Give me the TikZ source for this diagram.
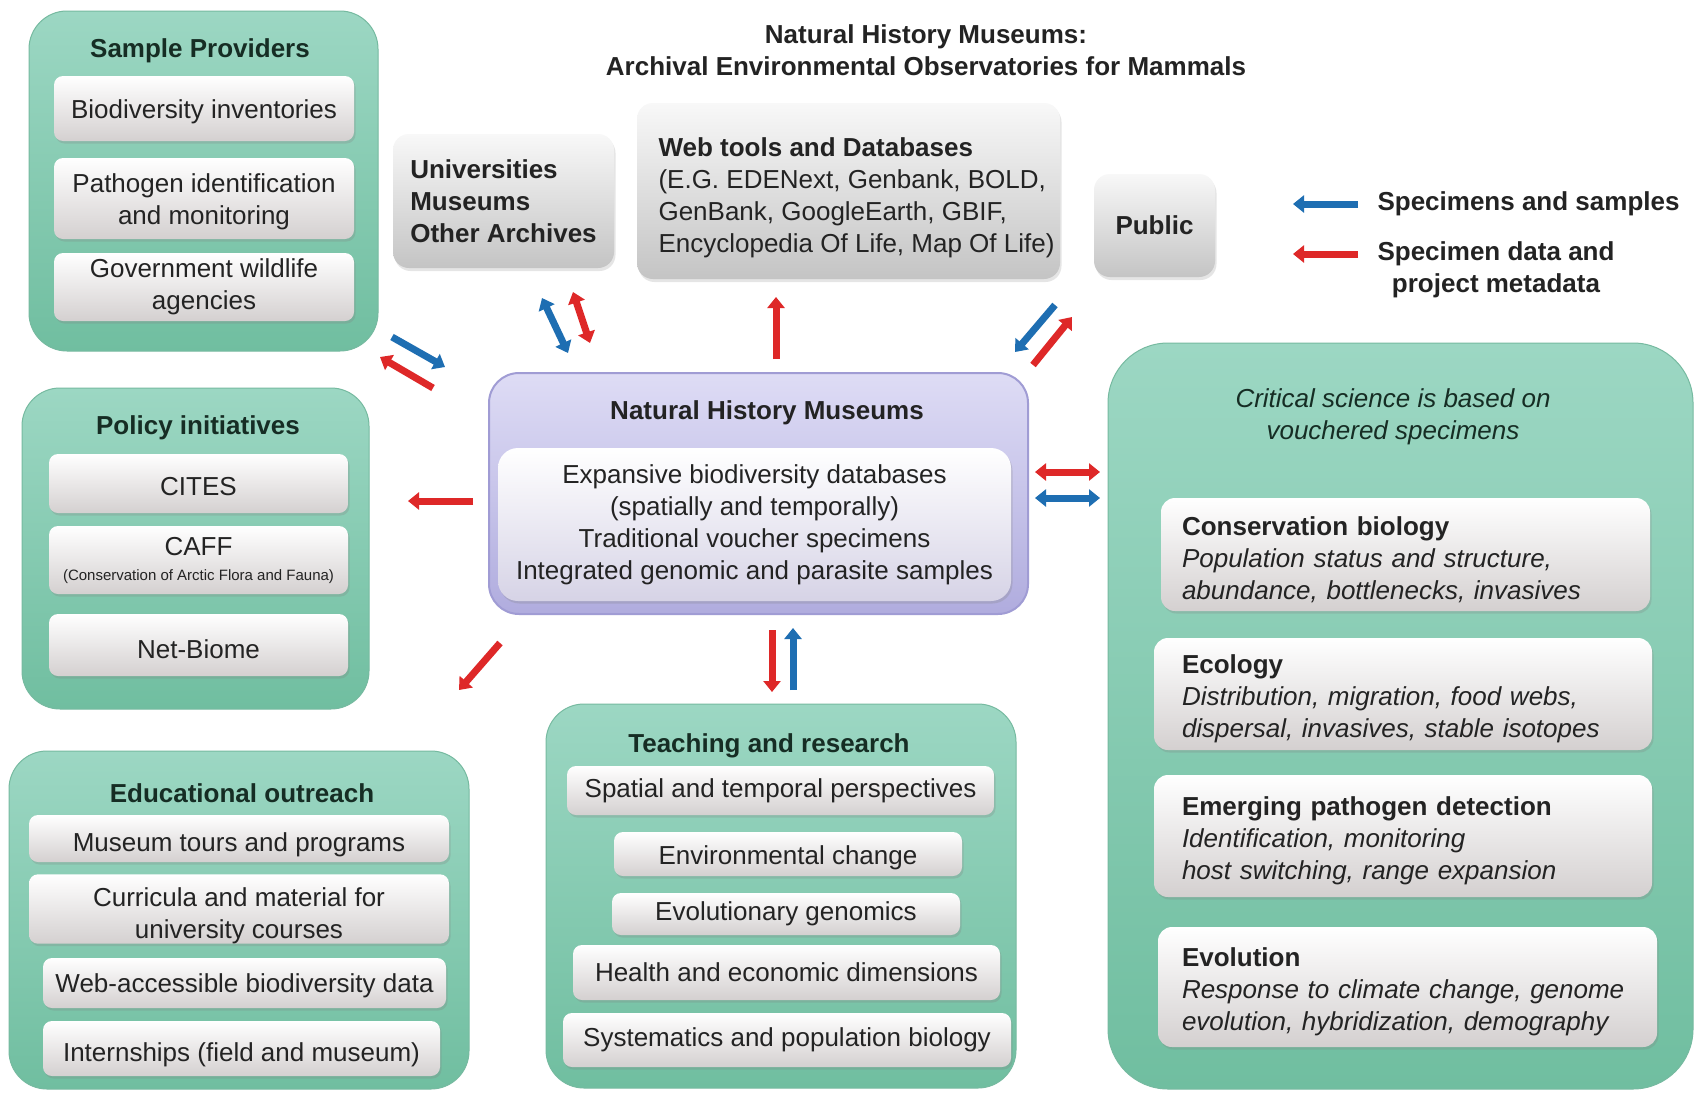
\documentclass[tikz,border=0pt]{standalone}
\usepackage{fontspec}
\setmainfont{Liberation Sans}
\usetikzlibrary{arrows.meta,shadows,positioning}

\definecolor{grnT}{RGB}{156,215,195}
\definecolor{grnB}{RGB}{112,190,160}
\definecolor{grnD}{RGB}{118,186,160}
\definecolor{itemB}{RGB}{212,208,208}
\definecolor{gryT}{RGB}{248,248,248}
\definecolor{gryB}{RGB}{196,196,196}
\definecolor{lavT}{RGB}{222,220,245}
\definecolor{lavB}{RGB}{176,172,222}
\definecolor{lavD}{RGB}{160,156,212}
\definecolor{lavI}{RGB}{214,211,230}
\definecolor{arred}{RGB}{222,40,40}
\definecolor{arblue}{RGB}{30,110,178}
\definecolor{txt}{RGB}{35,35,35}
\definecolor{ttlc}{RGB}{22,45,36}

\newcommand{\txtsize}{\fontsize{26}{32}\selectfont}

\begin{document}
\begin{tikzpicture}[x=1pt,y=-1pt,
    grp/.style={rounded corners=38pt, top color=grnT, bottom color=grnB, draw=grnD, line width=1pt},
    item/.style={rounded corners=9pt, top color=white, bottom color=itemB, align=center, inner sep=0pt,
        text=txt, font=\txtsize, drop shadow={opacity=.25, shadow xshift=1.5pt, shadow yshift=-2.5pt}},
    sci/.style={item, align=left, rounded corners=14pt, low=29pt},
    gbox/.style={rounded corners=16pt, top color=gryT, bottom color=gryB, text=txt, font=\txtsize\bfseries,
        drop shadow={opacity=.2, shadow xshift=1.5pt, shadow yshift=-3pt}},
    ttl/.style={font=\txtsize\bfseries, text=ttlc},
    low/.style={execute at begin node={\rule{0pt}{#1}}},
    redarr/.style={draw=arred, line width=7pt, -{Triangle[length=11pt,width=17pt]}},
    bluearr/.style={draw=arblue, line width=7pt, -{Triangle[length=11pt,width=17pt]}},
    redboth/.style={draw=arred, line width=7pt, {Triangle[length=11pt,width=17pt]}-{Triangle[length=11pt,width=17pt]}},
    blueboth/.style={draw=arblue, line width=7pt, {Triangle[length=11pt,width=17pt]}-{Triangle[length=11pt,width=17pt]}}]

    \fill[white] (0,0) rectangle (1704,1092);
    \useasboundingbox (0,0) rectangle (1704,1092);

    % heading
    \node[ttl, text=txt, align=center] (head) at (926,50) {Natural History Museums:\\Archival Environmental Observatories for Mammals};

    % sample providers
    \node[grp, minimum width=349pt, minimum height=340pt] (samp) at (203.5,181) {};
    \node[ttl] (samphd) at (200,51) {Sample Providers};
    \node[item, low=25pt, minimum width=300pt, minimum height=65pt] (bioinv) at (204,108.5) {Biodiversity inventories};
    \node[item, minimum width=300pt, minimum height=81pt] (pathid) at (204,198.5) {\rule{0pt}{25pt}Pathogen identification\\and monitoring};
    \node[item, minimum width=300pt, minimum height=68pt] (govwild) at (204,287) {Government wildlife\\agencies};

    % top row
    \node[gbox, align=left, minimum width=221pt, minimum height=134pt] (univ) at (503.5,201) {Universities\\Museums\\Other Archives};
    \node[gbox, minimum width=423pt, minimum height=176pt] (webdb) at (848.5,191) {};
    \node[font=\txtsize, text=txt, align=left, anchor=west] (webtxt) at (655,198)
        {\textbf{Web tools and Databases}\\(E.G. EDENext, Genbank, BOLD,\\GenBank, GoogleEarth, GBIF,\\Encyclopedia Of Life, Map Of Life)};
    \node[gbox, minimum width=121pt, minimum height=103pt] (public) at (1154.5,225.5) {Public};

    % legend
    \coordinate (lb1) at (1358,204);
    \coordinate (lb2) at (1293,204);
    \coordinate (lr1) at (1358,254);
    \coordinate (lr2) at (1293,254);
    \node[ttl, text=txt, anchor=west] (legb) at (1374,204) {Specimens and samples};
    \node[ttl, text=txt, align=center] (legr) at (1496,270) {Specimen data and\\project metadata};

    % policy initiatives
    \node[grp, minimum width=347pt, minimum height=321pt] (pol) at (195.5,548.5) {};
    \node[ttl] (polhd) at (198,428) {Policy initiatives};
    \node[item, low=25pt, minimum width=299pt, minimum height=59pt] (cites) at (198.5,483.5) {CITES};
    \node[item, minimum width=299pt, minimum height=68pt] (caff) at (198.5,560)
        {CAFF\\[-7pt]{\fontsize{15}{17}\selectfont (Conservation of Arctic Flora and Fauna)}};
    \node[item, low=27pt, minimum width=299pt, minimum height=62pt] (netbiome) at (198.5,645) {Net-Biome};

    % educational outreach
    \node[grp, minimum width=460pt, minimum height=338pt] (edu) at (239,920) {};
    \node[ttl] (eduhd) at (242,793) {Educational outreach};
    \node[item, low=32pt, minimum width=420pt, minimum height=47pt] (tours) at (239,838.5) {Museum tours and programs};
    \node[item, minimum width=420pt, minimum height=68pt] (curric) at (239,909) {\rule{0pt}{32pt}Curricula and material for\\university courses};
    \node[item, low=25pt, minimum width=403pt, minimum height=50pt] (webacc) at (244.5,983) {Web-accessible biodiversity data};
    \node[item, low=32pt, minimum width=397pt, minimum height=55pt] (intern) at (241.5,1048.5) {Internships (field and museum)};

    % natural history museums
    \node[rounded corners=30pt, top color=lavT, bottom color=lavB, draw=lavD, line width=2pt,
        minimum width=539pt, minimum height=241pt] (nhm) at (758.5,493.5) {};
    \node[ttl, text=txt] (nhmhd) at (767,413) {Natural History Museums};
    \node[item, bottom color=lavI, rounded corners=20pt, minimum width=513pt, minimum height=153pt, drop shadow={opacity=0}] (nhmin) at (754.5,524.5)
        {Expansive biodiversity databases\\(spatially and temporally)\\Traditional voucher specimens\\Integrated genomic and parasite samples};

    % teaching and research
    \node[grp, minimum width=470pt, minimum height=384pt] (teach) at (781,896) {};
    \node[ttl] (teachhd) at (769,746) {Teaching and research};
    \node[item, minimum width=427pt, minimum height=49pt] (spatial) at (780.5,790.5) {Spatial and temporal perspectives};
    \node[item, low=27pt, minimum width=348pt, minimum height=44pt] (envch) at (788,854) {Environmental change};
    \node[item, minimum width=348pt, minimum height=42pt] (evgen) at (786,914) {Evolutionary genomics};
    \node[item, minimum width=427pt, minimum height=55pt] (health) at (786.5,972.5) {Health and economic dimensions};
    \node[item, minimum width=448pt, minimum height=54pt] (syst) at (787,1040) {Systematics and population biology};

    % critical science
    \node[grp, rounded corners=60pt, minimum width=585pt, minimum height=746pt] (sci) at (1400.5,716) {};
    \node[ttl, font=\txtsize\itshape, align=center] (scihd) at (1393,417) {Critical science is based on\\vouchered specimens};
    \node[sci, text width=447pt, inner xsep=21pt, minimum height=113pt] (cons) at (1405.5,554.5)
        {\textbf{Conservation biology}\\\textit{Population status and structure,}\\\textit{abundance, bottlenecks, invasives}};
    \node[sci, text width=442pt, inner xsep=28pt, minimum height=112pt] (eco) at (1403,694)
        {\textbf{Ecology}\\\textit{Distribution, migration, food webs,}\\\textit{dispersal, invasives, stable isotopes}};
    \node[sci, text width=442pt, inner xsep=28pt, minimum height=122pt] (emerg) at (1403,836)
        {\textbf{Emerging pathogen detection}\\\textit{Identification, monitoring}\\\textit{host switching, range expansion}};
    \node[sci, text width=451pt, inner xsep=24pt, minimum height=120pt] (evol) at (1407.5,987)
        {\textbf{Evolution}\\\textit{Response to climate change, genome}\\\textit{evolution, hybridization, demography}};

    % arrow ends
    \coordinate (sb1) at (392,337);  \coordinate (sb2) at (445,367);
    \coordinate (sr1) at (433,388);  \coordinate (sr2) at (380,357);
    \coordinate (ub1) at (542,298);  \coordinate (ub2) at (568,353);
    \coordinate (ur1) at (573,292);  \coordinate (ur2) at (590,343);
    \coordinate (wr1) at (776,359);  \coordinate (wr2) at (776,297);
    \coordinate (pb1) at (1055,305); \coordinate (pb2) at (1015,352);
    \coordinate (pr1) at (1033,365); \coordinate (pr2) at (1072,317);
    \coordinate (sr3) at (1035,472); \coordinate (sr4) at (1100,472);
    \coordinate (sb3) at (1035,498); \coordinate (sb4) at (1100,498);
    \coordinate (po1) at (473,501);  \coordinate (po2) at (408,501);
    \coordinate (ed1) at (500,643);  \coordinate (ed2) at (459,690);
    \coordinate (tr1) at (772,630);  \coordinate (tr2) at (772,692);
    \coordinate (tb1) at (793,690);  \coordinate (tb2) at (793,628);

    \draw
    (lb1) edge[bluearr] (lb2)
    (lr1) edge[redarr] (lr2)
    (sb1) edge[bluearr] (sb2)
    (sr1) edge[redarr] (sr2)
    (ub1) edge[blueboth] (ub2)
    (ur1) edge[redboth] (ur2)
    (wr1) edge[redarr] (wr2)
    (pb1) edge[bluearr] (pb2)
    (pr1) edge[redarr] (pr2)
    (sr3) edge[redboth] (sr4)
    (sb3) edge[blueboth] (sb4)
    (po1) edge[redarr] (po2)
    (ed1) edge[redarr] (ed2)
    (tr1) edge[redarr] (tr2)
    (tb1) edge[bluearr] (tb2);
\end{tikzpicture}
\end{document}
